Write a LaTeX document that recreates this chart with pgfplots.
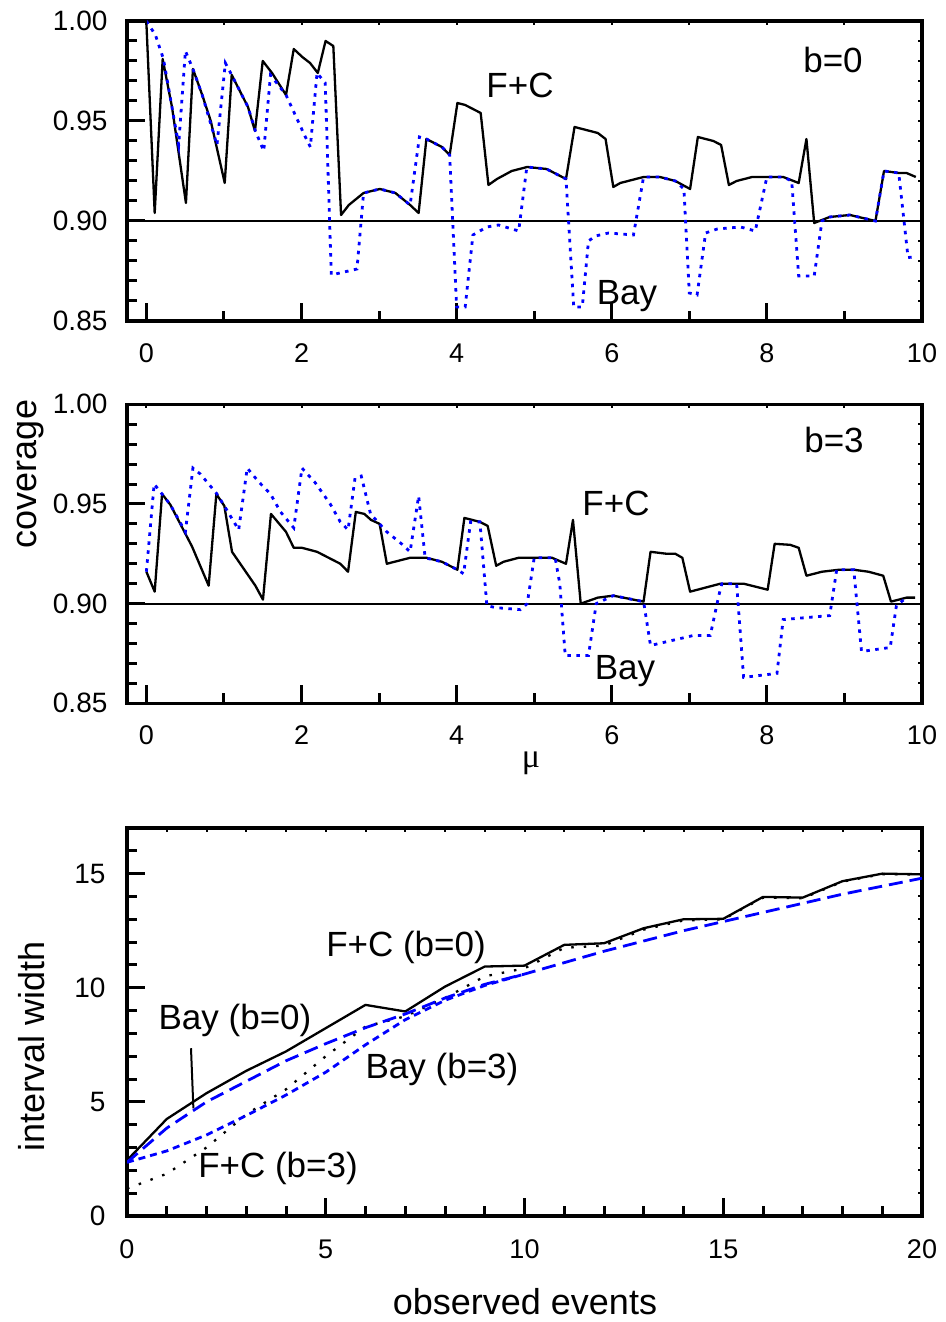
\documentclass[border=0pt]{standalone}
\usepackage{fontspec}
\setmainfont{Liberation Sans}
\usepackage{pgfplots}
\pgfplotsset{compat=1.18}
\definecolor{bblue}{RGB}{0,0,255}
\pgfplotsset{
  base/.style={
    scale only axis, anchor=south west,
    line width=3.2pt,
    axis line style={line width=3.2pt},
    every outer x axis line/.append style={line width=3.2pt},
    every outer y axis line/.append style={line width=3.2pt},
    tick style={black, line width=3pt},
    major tick style={black, line width=3pt},
    minor tick style={black, line width=3pt},
    major tick length=18pt, minor tick length=10pt,
    tick align=inside, tick pos=left,
    /pgf/number format/assume math mode=true,
    yticklabel style={anchor=east, inner sep=0pt, font=\fontsize{28}{30}\selectfont},
    xticklabel style={anchor=north, inner sep=0pt, font=\fontsize{27}{30}\selectfont},
  },
  cov/.style={base, width=795pt, xmin=-0.25, xmax=10, ymin=0.85, ymax=1.0,
    xtick={0,2,4,6,8,10}, minor x tick num=1,
    ytick={0.85,0.90,0.95,1.00}, minor y tick num=4,
    yticklabel style={xshift=-18pt}, xticklabel style={yshift=-21pt},
    y tick label style={/pgf/number format/fixed, /pgf/number format/fixed zerofill, /pgf/number format/precision=2}},
  over/.style={scale only axis, anchor=south west, axis line style={draw=none},
    tick pos=right, tick align=inside, major tick length=4pt, minor tick length=4pt,
    tick style={black,line width=2pt}, major tick style={black,line width=2pt}, minor tick style={black,line width=2pt},
    xticklabels={}, yticklabels={}},
  fc/.style={black, line width=2.3pt, line join=round},
  bay/.style={bblue, line width=2.8pt, dash pattern=on 3.5pt off 5.5pt},
}
\begin{document}
\begin{tikzpicture}[x=1pt,y=1pt]
\path[use as bounding box] (0,0) rectangle (945,1322);
% ---------- panel 1 (b=0)
\begin{axis}[cov, at={(127pt,1001pt)}, height=300pt]
\addplot[black, line width=2.8pt] coordinates {(-0.25,0.9) (10,0.9)};
\addplot[fc] coordinates {(0,0.999) (0.107,0.904) (0.21,0.981) (0.33,0.957) (0.51,0.909) (0.60,0.976) (0.72,0.963) (0.83,0.950) (1.01,0.919) (1.10,0.973) (1.31,0.957) (1.40,0.945) (1.50,0.980) (1.62,0.974) (1.80,0.963) (1.90,0.986) (2.01,0.982) (2.11,0.979) (2.21,0.974) (2.31,0.990) (2.41,0.9875) (2.51,0.903) (2.61,0.908) (2.80,0.914) (3.01,0.916) (3.21,0.914) (3.40,0.908) (3.51,0.904) (3.61,0.941) (3.81,0.937) (3.91,0.933) (4.01,0.959) (4.11,0.958) (4.31,0.954) (4.41,0.918) (4.52,0.921) (4.71,0.925) (4.91,0.927) (5.16,0.926) (5.41,0.921) (5.52,0.947) (5.82,0.944) (5.92,0.941) (6.02,0.917) (6.11,0.919) (6.41,0.922) (6.62,0.922) (6.82,0.920) (7.01,0.916) (7.11,0.942) (7.31,0.940) (7.41,0.938) (7.51,0.918) (7.61,0.920) (7.81,0.922) (8.21,0.922) (8.41,0.919) (8.51,0.941) (8.61,0.899) (8.81,0.902) (9.07,0.903) (9.40,0.900) (9.51,0.925) (9.70,0.924) (9.80,0.924) (9.92,0.922)};
\addplot[bay] coordinates {(0,1.0) (0.116,0.993) (0.22,0.981) (0.416,0.938) (0.503,0.985) (0.60,0.976) (0.72,0.963) (0.91,0.938) (1.018,0.979) (1.10,0.973) (1.31,0.957) (1.405,0.945) (1.513,0.935) (1.60,0.973) (1.80,0.963) (2.05,0.942) (2.114,0.937) (2.20,0.974) (2.306,0.969) (2.384,0.873) (2.715,0.876) (2.80,0.914) (3.01,0.916) (3.21,0.914) (3.40,0.908) (3.52,0.942) (3.61,0.941) (3.81,0.937) (3.91,0.933) (4.00,0.857) (4.11,0.857) (4.21,0.893) (4.39,0.897) (4.54,0.898) (4.80,0.895) (4.905,0.927) (5.16,0.926) (5.41,0.921) (5.51,0.857) (5.62,0.857) (5.70,0.890) (5.79,0.8925) (5.96,0.894) (6.28,0.893) (6.41,0.922) (6.62,0.922) (6.82,0.920) (6.93,0.916) (7.00,0.864) (7.10,0.863) (7.21,0.894) (7.36,0.896) (7.66,0.897) (7.85,0.895) (8.00,0.922) (8.21,0.922) (8.32,0.920) (8.41,0.8725) (8.61,0.8725) (8.71,0.900) (8.81,0.902) (9.07,0.903) (9.40,0.900) (9.51,0.925) (9.70,0.924) (9.82,0.8817) (9.88,0.882)};
\end{axis}
\begin{axis}[over, at={(127pt,1001pt)}, width=795pt, height=300pt, xmin=-0.25, xmax=10, ymin=0.85, ymax=1.0,
  xtick={0,1,...,10}, ytick={0.85,0.90,0.95,1.00}, minor y tick num=4]
\addplot[draw=none] coordinates {(0,0.9) (1,0.9)};
\end{axis}
% ---------- panel 2 (b=3)
\begin{axis}[cov, at={(127pt,618.7pt)}, height=299pt]
\addplot[black, line width=2pt] coordinates {(-0.25,0.9) (10,0.9)};
\addplot[fc] coordinates {(0,0.916) (0.107,0.906) (0.202,0.955) (0.309,0.9496) (0.589,0.9286) (0.803,0.909) (0.902,0.955) (1.005,0.949) (1.104,0.926) (1.405,0.909) (1.503,0.902) (1.606,0.945) (1.80,0.936) (1.90,0.928) (2.006,0.928) (2.20,0.926) (2.50,0.920) (2.60,0.916) (2.70,0.946) (2.81,0.945) (2.896,0.942) (3.007,0.940) (3.10,0.920) (3.40,0.923) (3.61,0.923) (3.81,0.921) (4.01,0.917) (4.10,0.943) (4.30,0.941) (4.40,0.939) (4.51,0.919) (4.605,0.921) (4.80,0.923) (5.23,0.923) (5.41,0.920) (5.50,0.942) (5.60,0.900) (5.82,0.903) (6.02,0.904) (6.41,0.901) (6.50,0.926) (6.71,0.925) (6.82,0.925) (6.91,0.923) (7.01,0.906) (7.40,0.910) (7.70,0.910) (8.01,0.907) (8.10,0.930) (8.30,0.9295) (8.41,0.928) (8.51,0.914) (8.71,0.916) (8.93,0.917) (9.12,0.917) (9.31,0.916) (9.50,0.914) (9.60,0.901) (9.80,0.903) (9.91,0.903)};
\addplot[bay] coordinates {(0,0.916) (0.10,0.960) (0.202,0.955) (0.309,0.9496) (0.503,0.936) (0.60,0.968) (0.696,0.965) (0.91,0.955) (1.005,0.949) (1.19,0.937) (1.30,0.968) (1.45,0.961) (1.60,0.955) (1.73,0.946) (1.90,0.938) (2.006,0.968) (2.18,0.9605) (2.37,0.950) (2.50,0.941) (2.60,0.937) (2.69,0.963) (2.77,0.964) (2.89,0.945) (3.10,0.936) (3.29,0.930) (3.40,0.926) (3.51,0.954) (3.594,0.923) (3.81,0.921) (4.01,0.917) (4.09,0.915) (4.18,0.941) (4.30,0.941) (4.39,0.899) (4.50,0.898) (4.82,0.897) (4.91,0.900) (5.00,0.923) (5.27,0.923) (5.33,0.910) (5.40,0.874) (5.70,0.874) (5.80,0.900) (6.02,0.904) (6.41,0.901) (6.50,0.879) (7.05,0.884) (7.27,0.884) (7.38,0.904) (7.42,0.910) (7.61,0.910) (7.70,0.863) (8.13,0.865) (8.21,0.892) (8.81,0.894) (8.90,0.917) (9.12,0.917) (9.22,0.876) (9.59,0.878) (9.67,0.899) (9.80,0.903)};
\end{axis}
\begin{axis}[over, at={(127pt,618.7pt)}, width=795pt, height=299pt, xmin=-0.25, xmax=10, ymin=0.85, ymax=1.0,
  xtick={0,1,...,10}, ytick={0.85,0.90,0.95,1.00}, minor y tick num=4]
\addplot[draw=none] coordinates {(0,0.9) (1,0.9)};
\end{axis}
% ---------- panel 3
\begin{axis}[base, at={(127pt,106pt)}, width=795pt, height=388pt,
  xmin=0, xmax=20, ymin=0, ymax=17,
  xtick={0,5,10,15,20}, minor x tick num=4,
  ytick={0,5,10,15}, minor ytick={1,2,3,4,6,7,8,9,11,12,13,14,16},
  yticklabel style={xshift=-20pt}, xticklabel style={yshift=-22pt}]
\addplot[fc] coordinates {(0,2.44) (1,4.25) (2,5.38) (3,6.36) (4,7.21) (5,8.23) (6,9.25) (7,8.96) (8,10.05) (9,10.93) (10,10.97) (11,11.88) (12,11.95) (13,12.61) (14,13.0) (15,13.02) (16,13.98) (17,13.95) (18,14.67) (19,15.0) (20,14.97)};
\addplot[black, line width=2.3pt, dash pattern=on 2.5pt off 10pt] coordinates {(0,1.2) (1,1.85) (2,3.0) (3,4.45) (4,5.55) (5,7.0) (6,8.3) (7,8.75) (8,9.55) (9,10.5) (10,10.85) (11,11.75) (12,11.85) (13,12.55) (14,12.95) (15,13.0) (16,13.95) (17,13.92) (18,14.65) (19,14.98) (20,14.95)};
\addplot[bblue, line width=2.8pt, dash pattern=on 14pt off 7pt] coordinates {(0,2.35) (1,3.85) (2,5.0) (3,5.9) (4,6.8) (5,7.55) (6,8.25) (7,8.85) (8,9.55) (9,10.15) (10,10.6) (11,11.1) (12,11.6) (13,12.05) (14,12.5) (15,12.9) (16,13.3) (17,13.7) (18,14.1) (19,14.45) (20,14.8)};
\addplot[bblue, line width=2.8pt, dash pattern=on 7pt off 5pt] coordinates {(0,2.35) (1,2.85) (2,3.55) (3,4.4) (4,5.3) (5,6.3) (6,7.5) (7,8.6) (8,9.45) (9,10.1) (10,10.6)};
\addplot[black, line width=2pt] coordinates {(1.61,7.35) (1.67,4.72)};
\end{axis}
\begin{axis}[over, at={(127pt,106pt)}, width=795pt, height=388pt, xmin=0, xmax=20, ymin=0, ymax=17,
  xtick={0,1,...,20}, ytick={0,1,...,17}]
\addplot[draw=none] coordinates {(0,1) (1,1)};
\end{axis}
% ---------- texts
\begin{scope}[every node/.style={inner sep=0pt, anchor=base, font=\fontsize{35}{38}\selectfont}]
\node at (520,1224) {F+C};
\node at (627,1017) {Bay};
\node at (833,1249) {b=0};
\node at (616,806) {F+C};
\node at (625,642) {Bay};
\node at (834,869) {b=3};
\node at (406,365) {F+C (b=0)};
\node at (235,292) {Bay (b=0)};
\node at (442,243) {Bay (b=3)};
\node at (278,144) {F+C (b=3)};
\node[rotate=90, font=\fontsize{36}{38}\selectfont] at (36,848) {coverage};
\node[rotate=90, font=\fontsize{36}{38}\selectfont] at (44,276) {interval width};
\node[font=\fontsize{36}{38}\selectfont] at (525,8) {observed events};
\node[font=\fontsize{34}{36}\selectfont\fontspec{Liberation Serif}] at (531,554) {μ};
\end{scope}
\end{tikzpicture}
\end{document}
